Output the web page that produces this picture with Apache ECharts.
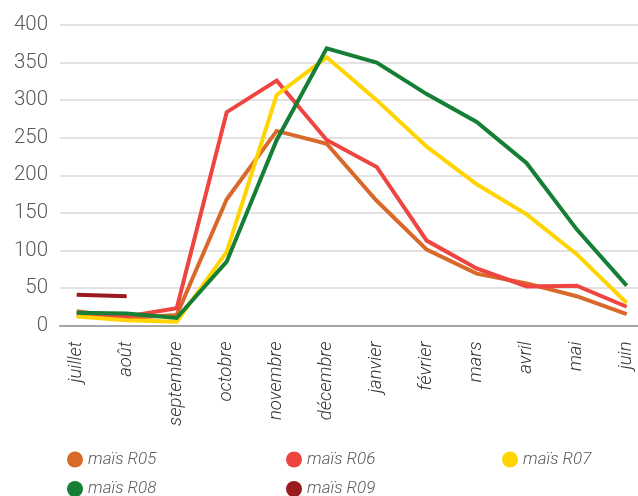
<!DOCTYPE html>
<html>
<head>
<meta charset="utf-8">
<script src="https://cdn.jsdelivr.net/npm/echarts@6/dist/echarts.min.js"></script>
<style>
html,body{margin:0;padding:0;background:#fff;}
#c{width:638px;height:496px;}
</style>
</head>
<body>
<div id="c"></div>
<script>
const months = ['juillet','août','septembre','octobre','novembre','décembre','janvier','février','mars','avril','mai','juin'];
const r05 = [19, 10, 14, 168, 259, 242, 166, 101, 69, 56, 39, 15];
const r06 = [14, 12, 23, 284, 326, 247, 211, 113, 76, 52, 53, 25];
const r07 = [12, 7, 5, 98, 307, 357, 300, 238, 188, 148, 95, 30];
const r08 = [17, 16, 10, 85, 247, 369, 350, 308, 271, 216, 128, 53];
const r09 = [41, 39, null, null, null, null, null, null, null, null, null, null];
const seriesNames = ['maïs R05','maïs R06','maïs R07','maïs R08','maïs R09'];
const colors = ['#D9692A','#EE4540','#FFD400','#157F35','#9B1A1E'];
const yTicks = [0, 50, 100, 150, 200, 250, 300, 350, 400];

const chart = echarts.init(document.getElementById('c'), null, {renderer:'canvas'});
const txtFont = 'Roboto';
const legendPos = [
  {left: 62, top: 446},
  {left: 281, top: 446},
  {left: 497, top: 446},
  {left: 62, top: 475.5},
  {left: 281, top: 475.5}
];
const allData = [r05, r06, r07, r08, r09];
const option = {
  animation: false,
  grid: [
    {left: 60, right: 0, top: 25, bottom: 170.5},
    {left: 76.7, right: 11.3, top: 25, bottom: 170.5}
  ],
  xAxis: [
    {gridIndex: 0, type: 'category', data: months, boundaryGap: false,
     axisLine: {show: true, lineStyle: {color: '#A6A6A6', width: 2}},
     axisTick: {show: false}, axisLabel: {show: false}, splitLine: {show: false}},
    {gridIndex: 1, type: 'category', data: months, boundaryGap: false,
     axisLine: {show: false}, axisTick: {show: false},
     axisLabel: {rotate: 90, margin: 16, fontFamily: txtFont, fontStyle: 'italic', fontSize: 18.5, color: '#333', fontWeight: 300, interval: 0}}
  ],
  yAxis: [
    {gridIndex: 0, type: 'value', min: yTicks[0], max: yTicks[yTicks.length-1], interval: 50,
     axisLine: {show: false}, axisTick: {show: false},
     axisLabel: {margin: 12, fontFamily: txtFont, fontSize: 20.5, fontWeight: 300, color: '#595959'},
     splitLine: {show: true, lineStyle: {color: '#D9D9D9', width: 1.5}}},
    {gridIndex: 1, type: 'value', min: 0, max: 400, show: false, splitLine: {show: false}}
  ],
  legend: seriesNames.map((n, i) => ({
    data: [{name: n, icon: 'circle'}],
    left: legendPos[i].left, top: legendPos[i].top,
    itemWidth: 16, itemHeight: 16, itemGap: 5,
    textStyle: {fontFamily: txtFont, fontStyle: 'italic', fontSize: 17, fontWeight: 300, color: '#595959'}
  })),
  series: seriesNames.map((n, i) => ({
    name: n, type: 'line', xAxisIndex: 1, yAxisIndex: 1,
    data: allData[i], showSymbol: false, symbol: 'none',
    connectNulls: false,
    itemStyle: {color: colors[i]},
    lineStyle: {color: colors[i], width: 4, cap: 'butt', join: 'miter'}
  }))
};
chart.setOption(option);
</script>
</body>
</html>
